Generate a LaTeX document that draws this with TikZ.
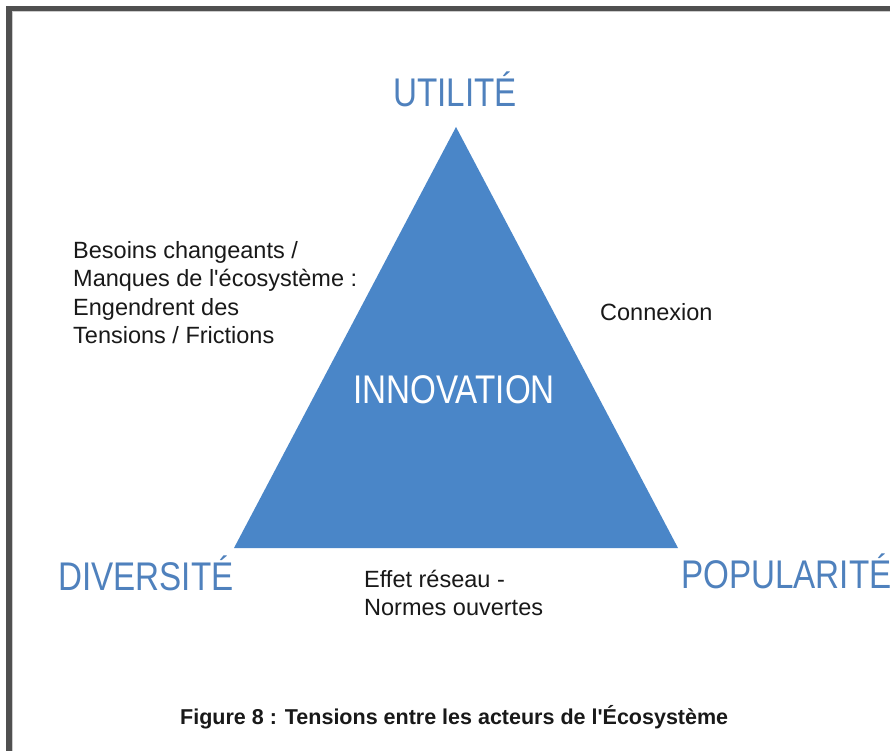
\documentclass[tikz,border=0pt]{standalone}
\usepackage{fontspec}
\setmainfont{Liberation Sans}
\newfontfamily\condensedfont[FakeStretch=0.83]{Liberation Sans}
\definecolor{trifill}{HTML}{4A86C8}
\definecolor{labelblue}{HTML}{4F81BD}
\definecolor{framegray}{HTML}{505050}
\tikzset{
  bigblue/.style={anchor=base west, inner sep=0pt, text=labelblue, font=\condensedfont\fontsize{40}{40}\selectfont},
  bodytext/.style={anchor=base west, inner sep=0pt, text=black!90, font=\fontsize{23.5}{28.5}\selectfont},
  captiontext/.style={anchor=base west, inner sep=0pt, text=black!90, font=\bfseries\fontsize{21.5}{26}\selectfont},
}
\begin{document}
\begin{tikzpicture}[x=1pt,y=-1pt]
\useasboundingbox (0,0) rectangle (890,751);
\fill[white] (0,0) rectangle (890,751);
% frame (top and left bands)
\fill[framegray] (6,6) rectangle (890,11.5);
\fill[framegray] (6,6) rectangle (11.5,751);
\fill[black!20] (11.5,11.5) rectangle (890,12.5);
\fill[black!20] (11.5,11.5) rectangle (12.5,751);
% triangle
\coordinate (apex) at (456,127);
\coordinate (bl) at (234,548);
\coordinate (br) at (678,548);
\fill[trifill] (apex) -- (bl) -- (br) -- cycle;
% corner labels
\node[bigblue] (utilite) at (393,107) {UTILITÉ};
\node[bigblue] (diversite) at (58,590) {DIVERSITÉ};
\node[bigblue] (popularite) at (681,588) {POPULARITÉ};
\node[bigblue, text=white] (innovation) at (353,403) {INNOVATION};
% side texts
\node[bodytext] (l1) at (73,258.3) {Besoins changeants /};
\node[bodytext] (l2) at (73,286.7) {Manques de l\textquotesingle écosystème :};
\node[bodytext] (l3) at (73,315.2) {Engendrent des};
\node[bodytext] (l4) at (73,343.4) {Tensions / Frictions};
\node[bodytext] (connexion) at (600,320) {Connexion};
\node[bodytext] (effet) at (364,587) {Effet réseau -};
\node[bodytext] (normes) at (364,615) {Normes ouvertes};
% caption
\node[captiontext] (caption) at (180,724) {Figure 8 : Tensions entre les acteurs de l\textquotesingle Écosystème};
\end{tikzpicture}
\end{document}
